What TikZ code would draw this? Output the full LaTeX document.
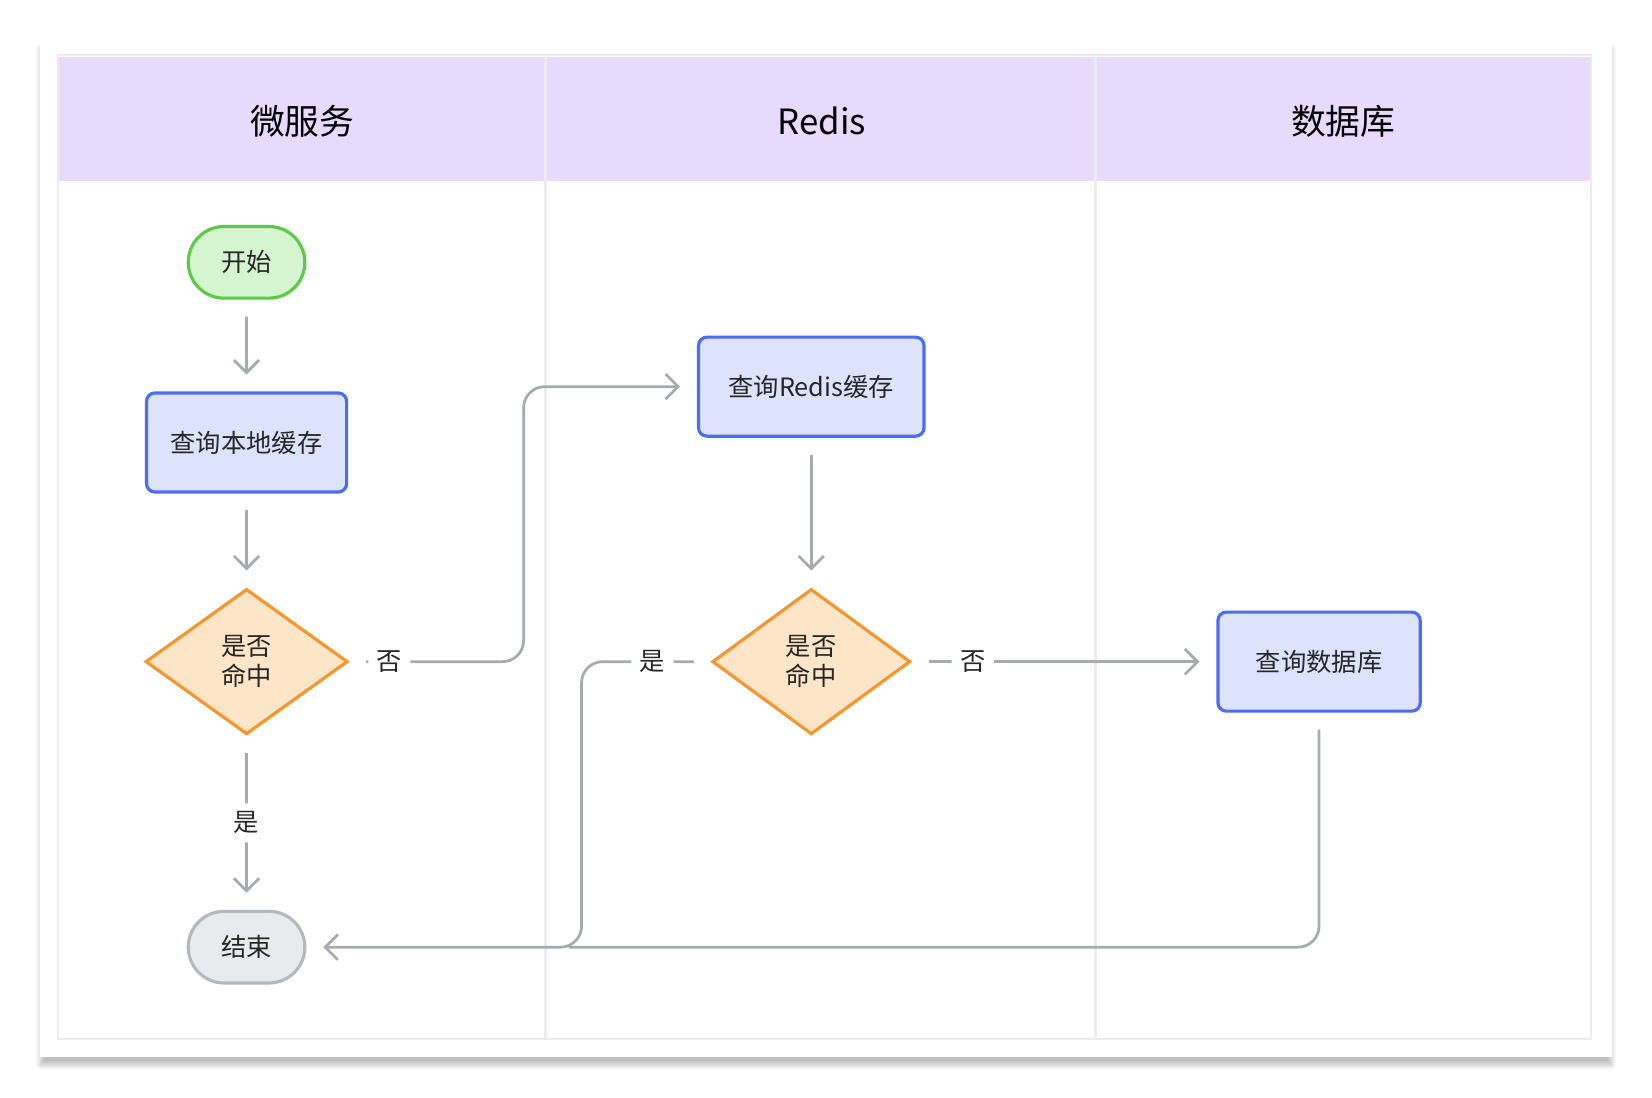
\documentclass[tikz,border=0pt]{standalone}
\usepackage{fontspec}
\setmainfont{Noto Sans CJK SC}
\usetikzlibrary{shapes.geometric,arrows.meta,shadows.blur}
\definecolor{hdr}{HTML}{E8DAFC}
\definecolor{bluef}{HTML}{DDE3FD}\definecolor{blued}{HTML}{4A6CF7}
\definecolor{orf}{HTML}{FDE5C8}\definecolor{ord}{HTML}{F7962E}
\definecolor{grf}{HTML}{D5F5D0}\definecolor{grd}{HTML}{5BCB45}
\definecolor{gyf}{HTML}{E8EAED}\definecolor{gyd}{HTML}{B5B9BE}
\definecolor{edge}{HTML}{A6ABB0}\definecolor{lane}{HTML}{EBECEF}
\begin{document}
\begin{tikzpicture}[x=0.5pt,y=-0.5pt,
  txt/.style={font=\fontsize{12}{14}\selectfont,text=black!85},
  box/.style={txt,draw=blued,fill=bluef,line width=1.5pt,rounded corners=4pt,minimum height=47pt,inner sep=0pt},
  term/.style={txt,rounded rectangle,line width=1.5pt,minimum width=62pt,minimum height=34pt},
  dia/.style={txt,diamond,draw=ord,fill=orf,line width=1.5pt,minimum width=96pt,minimum height=69pt,aspect=1.39,inner sep=0pt,align=center},
  ln/.style={draw=edge,line width=1.3pt,rounded corners=10pt},
  ar/.style={ln,-{Straight Barb[length=6pt,width=12pt]}},
  lab/.style={txt,fill=white,inner sep=4pt}]
\usetikzlibrary{shapes.misc}
\useasboundingbox (0,0) rectangle (1568,1042);
\fill[white,blur shadow={shadow blur steps=10,shadow xshift=0pt,shadow yshift=-4pt,shadow opacity=25}] (38,38) rectangle (1530,1003);
\draw[lane,line width=1.2pt,fill=white] (55,52) rectangle (1510,986);
\fill[hdr] (56,54) rectangle (1509,172);
\draw[lane,line width=1.2pt] (518,54) -- (518,986) (1040,54) -- (1040,986);
\node[font=\fontsize{16.5}{18}\selectfont] (h1) at (287,115) {微服务};
\node[font=\fontsize{16.5}{18}\selectfont] (h2) at (780,115) {Redis};
\node[font=\fontsize{16.5}{18}\selectfont] (h3) at (1275,115) {数据库};
\node[term,draw=grd,fill=grf] (start) at (234,249) {开始};
\node[box,minimum width=95pt] (local) at (234,420) {查询本地缓存};
\node[dia] (d1) at (234,628) {是否\\命中};
\node[term,draw=gyd,fill=gyf] (end) at (234,899) {结束};
\node[box,minimum width=107pt] (redis) at (770,367) {查询Redis缓存};
\node[dia,minimum width=94pt] (d2) at (770,628) {是否\\命中};
\node[box,minimum width=96pt] (db) at (1252,628) {查询数据库};
\draw[ar,shorten >=8pt,shorten <=8pt] (start) -- (local);
\draw[ar,shorten >=8pt,shorten <=8pt] (local) -- (d1);
\draw[ar,shorten >=8pt,shorten <=8pt] (redis) -- (d2);
\draw[ar,shorten >=8pt,shorten <=8pt] (d1) -- node[lab]{是} (end);
\draw[ar,shorten >=8pt,shorten <=8pt] (d1.east) -- node[lab,pos=0.23]{否} (497,628) |- (redis.west);
\draw[ar,shorten >=8pt,shorten <=8pt] (d2.east) -- node[lab,pos=0.2]{否} (db.west);
\draw[ar,shorten >=8pt,shorten <=8pt] (d2.west) -- node[lab,pos=0.45]{是} (552,628) |- (end.east);
\draw[ln,shorten <=8pt] (db.south) |- (540,899);
\end{tikzpicture}
\end{document}
